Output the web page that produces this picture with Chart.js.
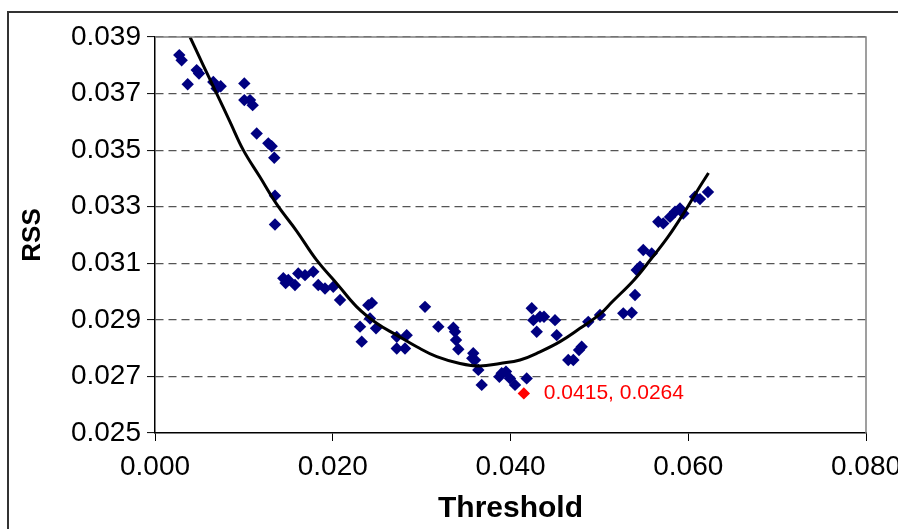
<!DOCTYPE html>
<html>
<head>
<meta charset="utf-8">
<script src="https://cdn.jsdelivr.net/npm/chart.js@4.4.0/dist/chart.umd.min.js"></script>
<style>
  html, body { margin: 0; padding: 0; background: #fff; }
</style>
</head>
<body>
<canvas id="rssChart" width="898" height="529"></canvas>
<script>
// threshold / RSS pairs
const thresholds = [
  0.00273, 0.00300, 0.00368, 0.00469, 0.00495, 0.00656, 0.00694, 0.00739, 0.01005, 0.01005,
  0.01069, 0.01099, 0.01144, 0.01275, 0.01313, 0.01342, 0.01350, 0.01350,
  0.01444, 0.01470, 0.01500, 0.01575, 0.01612, 0.01688, 0.01781, 0.01837, 0.01913, 0.02006,
  0.02082, 0.02400, 0.02440, 0.02419, 0.02307, 0.02326, 0.02487, 0.02720, 0.02832, 0.02720,
  0.02813, 0.03038, 0.03188,
  0.03357, 0.03376, 0.03387, 0.03413, 0.03581, 0.03570, 0.03601, 0.03638, 0.03676, 0.03875,
  0.03901, 0.03949, 0.03994, 0.04051, 0.04182, 0.04239, 0.04257, 0.04332, 0.04295, 0.04377,
  0.04501, 0.04520,
  0.04650, 0.04707, 0.04771, 0.04801, 0.04875, 0.05007, 0.05269, 0.05364, 0.05401, 0.05420,
  0.05457, 0.05494, 0.05589, 0.05663, 0.05719, 0.05795, 0.05851, 0.05907, 0.05944, 0.06076,
  0.06132, 0.06222
];
const rss = [
  0.03836, 0.03818, 0.03733, 0.03783, 0.03771, 0.03741, 0.03718, 0.03726, 0.03736, 0.03677,
  0.03677, 0.03659, 0.03559, 0.03524, 0.03514, 0.03473, 0.03339, 0.03237,
  0.03047, 0.03030, 0.03041, 0.03023, 0.03064, 0.03058, 0.03070, 0.03023, 0.03011, 0.03017,
  0.02970, 0.02952, 0.02960, 0.02905, 0.02876, 0.02823, 0.02870, 0.02840, 0.02846, 0.02799,
  0.02799, 0.02946, 0.02876,
  0.02872, 0.02858, 0.02829, 0.02796, 0.02782, 0.02764, 0.02758, 0.02723, 0.02670, 0.02699,
  0.02711, 0.02717, 0.02693, 0.02670, 0.02693, 0.02941, 0.02899, 0.02911, 0.02858, 0.02911,
  0.02899, 0.02846,
  0.02758, 0.02758, 0.02793, 0.02805, 0.02893, 0.02917, 0.02923, 0.02925, 0.02988, 0.03076,
  0.03088, 0.03147, 0.03135, 0.03247, 0.03241, 0.03264, 0.03282, 0.03294, 0.03276, 0.03335,
  0.03327, 0.03352
];

// fitted curve
const trendX = [0.00394, 0.00543, 0.00694, 0.00844, 0.00994, 0.01181, 0.01369, 0.01594, 0.01819,
  0.02044, 0.02270, 0.02494, 0.02720, 0.02945, 0.03170, 0.03432, 0.03657, 0.03882, 0.04107,
  0.04332, 0.04557, 0.04782, 0.05007, 0.05142, 0.05390, 0.05581, 0.05772, 0.05963, 0.06121,
  0.06228];
const trendY = [0.03900, 0.03800, 0.03700, 0.03600, 0.03500, 0.03405, 0.03309, 0.03214, 0.03111,
  0.03029, 0.02946, 0.02888, 0.02846, 0.02805, 0.02770, 0.02746, 0.02737, 0.02746, 0.02758,
  0.02787, 0.02823, 0.02870, 0.02920, 0.02963, 0.03041, 0.03115, 0.03193, 0.03284, 0.03366,
  0.03419];

// lowest RSS
const bestThreshold = 0.0415;
const bestRss = 0.0264;

const xTicks = [0.000, 0.020, 0.040, 0.060, 0.080];
const yTicks = [0.025, 0.027, 0.029, 0.031, 0.033, 0.035, 0.037, 0.039];

const FONT = "'Liberation Sans', Arial, sans-serif";

const points = thresholds.map((t, i) => ({ x: t, y: rss[i] }));
const trend = trendX.map((t, i) => ({ x: t, y: trendY[i] }));

const framePlugin = {
  id: 'frame',
  beforeDraw(chart) {
    const ctx = chart.ctx;
    ctx.save();
    ctx.fillStyle = '#fff';
    ctx.fillRect(0, 0, chart.width, chart.height);
    // outer chart border, runs off the right and bottom of the picture
    ctx.strokeStyle = '#333';
    ctx.lineWidth = 2;
    ctx.strokeRect(8, 12, chart.width + 20, chart.height + 20);
    ctx.restore();
  },
  afterDraw(chart) {
    const a = chart.chartArea;
    const ctx = chart.ctx;
    ctx.save();
    ctx.strokeStyle = '#808080';
    ctx.lineWidth = 1.5;
    ctx.beginPath();
    ctx.moveTo(a.left, a.top);
    ctx.lineTo(a.right, a.top);
    ctx.lineTo(a.right, a.bottom);
    ctx.stroke();
    ctx.restore();
  }
};

const labelPlugin = {
  id: 'bestLabel',
  afterDatasetsDraw(chart) {
    const meta = chart.getDatasetMeta(2);
    const pt = meta.data[0];
    if (!pt) return;
    const ctx = chart.ctx;
    ctx.save();
    ctx.fillStyle = '#ff0000';
    ctx.font = '21px ' + FONT;
    ctx.textBaseline = 'middle';
    ctx.fillText(bestThreshold.toFixed(4) + ', ' + bestRss.toFixed(4), pt.x + 20, pt.y);
    ctx.restore();
  }
};

new Chart(document.getElementById('rssChart'), {
  type: 'scatter',
  data: {
    datasets: [
      {
        type: 'line',
        data: trend,
        borderColor: '#000',
        borderWidth: 3,
        pointRadius: 0,
        fill: false,
        tension: 0.4,
        order: 0
      },
      {
        data: points,
        backgroundColor: '#000080',
        borderColor: '#000080',
        pointStyle: 'rectRot',
        pointRadius: 6.2,
        borderWidth: 0,
        order: 1
      },
      {
        data: [{ x: bestThreshold, y: bestRss }],
        backgroundColor: '#ff0000',
        borderColor: '#ff0000',
        pointStyle: 'rectRot',
        pointRadius: 6.2,
        borderWidth: 0,
        order: 2
      }
    ]
  },
  options: {
    responsive: false,
    animation: false,
    events: [],
    layout: { padding: { left: 0, right: 32, top: 37, bottom: 0 } },
    plugins: { legend: { display: false }, tooltip: { enabled: false } },
    scales: {
      x: {
        type: 'linear',
        min: 0,
        max: 0.08,
        afterBuildTicks: (s) => { s.ticks = xTicks.map(v => ({ value: v })); },
        afterFit: (s) => { s.height = 96; s.paddingLeft = 0; s.paddingRight = 0; },
        ticks: {
          callback: (v) => Number(v).toFixed(3),
          font: { family: FONT, size: 28 },
          color: '#000',
          padding: 9,
          maxRotation: 0,
          autoSkip: false
        },
        grid: { drawOnChartArea: false, tickLength: 8, tickColor: '#000', tickWidth: 1 },
        border: { color: '#000', width: 1.5 },
        title: {
          display: true,
          text: 'Threshold',
          color: '#000',
          font: { family: FONT, size: 30, weight: 'bold' },
          padding: { top: 0, bottom: 2 }
        }
      },
      y: {
        type: 'linear',
        min: 0.025,
        max: 0.039,
        afterBuildTicks: (s) => { s.ticks = yTicks.map(v => ({ value: v })); },
        afterFit: (s) => { s.width = 155; },
        ticks: {
          callback: (v) => Number(v).toFixed(3),
          font: { family: FONT, size: 28 },
          color: '#000',
          padding: 6,
          autoSkip: false
        },
        grid: {
          color: (c) => (c.tick && Math.abs(c.tick.value - 0.025) < 1e-6) ? 'rgba(0,0,0,0)' : '#555',
          lineWidth: 1.2,
          tickLength: 8,
          tickColor: '#000',
          tickWidth: 1,
          tickBorderDash: [1, 0]
        },
        border: { color: '#000', width: 1.5, dash: [8, 5] },
        title: {
          display: true,
          text: 'RSS',
          color: '#000',
          font: { family: FONT, size: 26, weight: 'bold' },
          padding: { top: 17, bottom: 0 }
        }
      }
    }
  },
  plugins: [framePlugin, labelPlugin]
});
</script>
</body>
</html>
